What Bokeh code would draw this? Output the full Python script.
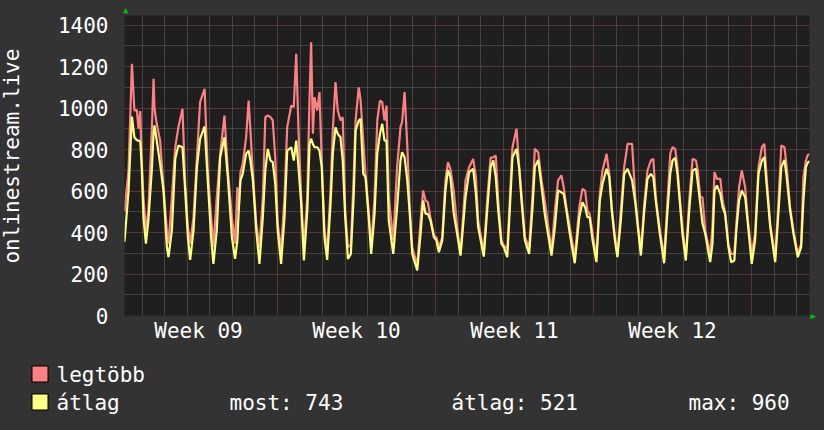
import math
from bokeh.plotting import figure
from bokeh.layouts import column, row
from bokeh.models import Range1d, FixedTicker, Grid, LinearAxis, GlobalInlineStyleSheet
from bokeh.core.properties import value
from bokeh.embed import file_html
from bokeh.resources import INLINE

# ---------------- data (time in days from Monday of Week 09) ----------------
t_days = [0.22, 0.40, 0.55, 0.66, 0.77, 0.84, 0.92, 0.98, 1.06, 1.17, 1.28, 1.43, 1.51, 1.55, 1.65, 1.80, 1.95,
          2.10, 2.17, 2.32, 2.47, 2.61, 2.79, 2.91, 3.03, 3.13, 3.28, 3.43, 3.57, 3.77, 3.91, 4.06, 4.16, 4.31,
          4.46, 4.65, 4.80, 4.98, 5.12, 5.22, 5.28, 5.36, 5.46, 5.61, 5.72, 5.80, 5.91, 6.06, 6.20, 6.35, 6.46,
          6.57, 6.69, 6.79, 6.90, 7.01, 7.16, 7.31, 7.43, 7.61, 7.72, 7.83, 7.93, 8.05, 8.17, 8.32, 8.42, 8.49,
          8.57, 8.64, 8.76, 8.86, 8.96, 9.08, 9.20, 9.35, 9.45, 9.57, 9.67, 9.79, 9.89, 10.00, 10.12, 10.25,
          10.38, 10.46, 10.60, 10.68, 10.80, 10.90, 11.05, 11.15, 11.30, 11.42, 11.54, 11.64, 11.74, 11.83,
          11.93, 12.13, 12.30, 12.45, 12.52, 12.63, 12.75, 12.86, 12.97, 13.19, 13.34, 13.45, 13.56, 13.66,
          13.78, 13.93, 14.04, 14.15, 14.30, 14.44, 14.55, 14.66, 14.81, 14.96, 15.11, 15.33, 15.49, 15.67,
          15.79, 15.89, 16.14, 16.29, 16.44, 16.56, 16.67, 16.78, 16.92, 17.03, 17.18, 17.29, 17.41, 17.59,
          17.71, 17.81, 17.96, 18.15, 18.30, 18.40, 18.55, 18.70, 18.84, 19.14, 19.29, 19.43, 19.58, 19.68,
          19.80, 19.95, 20.17, 20.37, 20.51, 20.63, 20.73, 20.83, 20.96, 21.13, 21.28, 21.40, 21.58, 21.70,
          21.81, 21.95, 22.06, 22.21, 22.36, 22.51, 22.71, 22.86, 22.95, 23.10, 23.25, 23.39, 23.54, 23.65,
          23.76, 23.94, 24.13, 24.28, 24.40, 24.50, 24.62, 24.72, 24.82, 24.94, 25.09, 25.24, 25.39, 25.54,
          25.62, 25.73, 25.83, 25.95, 26.17, 26.27, 26.36, 26.47, 26.62, 26.72, 26.83, 26.98, 27.10, 27.24,
          27.34, 27.45, 27.57, 27.72, 27.84, 28.01, 28.16, 28.31, 28.46, 28.57, 28.68, 28.83, 29.05, 29.20,
          29.32, 29.46, 29.56, 29.71, 29.86, 30.05, 30.20, 30.30, 30.41, 30.50, 30.58]

atlag = [355, 600, 959, 859, 845, 843, 840, 731, 474, 346, 458, 699, 880, 916, 843, 731, 602,
         329, 281, 410, 755, 819, 811, 602, 377, 268, 410, 715, 851, 911, 651, 377, 249, 410,
         763, 859, 667, 377, 273, 360, 500, 651, 683, 779, 795, 747, 651, 410, 249, 474, 699,
         803, 747, 739, 635, 410, 249, 474, 795, 811, 747, 843, 715, 538, 265, 506, 827, 851,
         827, 811, 811, 795, 715, 377, 268, 538, 779, 907, 875, 859, 747, 474, 273, 297,
         586, 892, 940, 948, 683, 667, 458, 297, 490, 779, 876, 924, 843, 843,
         458, 297, 522, 747, 787, 763, 651, 490, 297, 217, 394, 554, 490, 490,
         458, 377, 362, 305, 362, 602, 702, 667, 490, 394, 289, 570, 691, 707,
         586, 426, 284, 506, 715, 747, 667, 506, 346, 329, 281, 506, 763, 803,
         707, 554, 362, 297, 522, 715, 750, 618, 490, 289, 426, 602, 594, 586,
         506, 394, 252, 474, 546, 522, 474, 474, 362, 257, 554, 635, 707, 667,
         506, 362, 281, 458, 683, 707, 651, 538, 442, 289, 506, 659, 683, 667,
         554, 394, 252, 506, 683, 747, 760, 683, 554, 394, 265, 506, 699, 707,
         640, 538, 442, 394, 257, 345, 602, 627, 586, 522, 490, 329, 257, 265,
         426, 554, 602, 570, 442, 249, 362, 683, 747, 763, 618, 426, 257, 506,
         715, 750, 667, 506, 394, 281, 329, 554, 715, 739, 743]

legtobb = [500, 700, 1213, 988, 990, 900, 985, 760, 570, 410, 506, 892, 1141, 1000, 924, 843, 618,
           410, 346, 570, 811, 908, 996, 640, 426, 346, 474, 763, 1028, 1093, 699, 474, 329, 570,
           779, 964, 699, 474, 346, 618, 506, 690, 731, 859, 1036, 892, 683, 442, 329, 570, 956,
           964, 956, 940, 763, 442, 313, 570, 908, 1012, 1004, 1261, 892, 570, 329, 570, 1052, 1317,
           876, 1052, 988, 1077, 747, 410, 313, 602, 892, 1125, 988, 940, 956, 506, 329, 340,
           683, 940, 1100, 1040, 843, 680, 490, 329, 570, 940, 1036, 1028, 940, 1012,
           570, 362, 715, 908, 932, 1077, 819, 522, 329, 241, 458, 602, 554, 546,
           470, 386, 377, 329, 377, 651, 739, 707, 602, 426, 297, 651, 715, 755,
           667, 458, 305, 554, 760, 763, 771, 554, 362, 337, 321, 554, 811, 900,
           715, 586, 378, 329, 586, 803, 787, 651, 554, 313, 506, 651, 675, 618,
           522, 426, 281, 522, 610, 602, 506, 490, 394, 281, 586, 699, 779, 683,
           522, 378, 297, 506, 715, 827, 827, 554, 458, 313, 538, 699, 747, 755,
           570, 410, 281, 554, 779, 811, 803, 715, 570, 426, 281, 554, 755, 747,
           700, 570, 570, 410, 297, 426, 691, 659, 659, 554, 500, 340, 297, 297,
           458, 618, 699, 618, 458, 297, 394, 715, 811, 827, 651, 442, 281, 554,
           819, 811, 715, 522, 410, 297, 345, 667, 747, 776, 776]

week_centers = [3.5, 10.5, 17.5, 24.5]
week_labels = ["Week 09", "Week 10", "Week 11", "Week 12"]
y_ticks = [0, 200, 400, 600, 800, 1000, 1200, 1400]
y_title = "onlinestream.live"
series_names = ["legtöbb", "átlag"]
stat_texts = ["most: 743", "átlag: 521", "max: 960"]

# ---------------- layout (page pixels) ----------------
W, H = 824, 430
LAB_W = 40                     # strip holding the rotated y title
TOP_H = 350                    # chart part; legend strip below
FL, FR, FT, FB = 124, 809, 15, 315
X0, X1 = 0.2215, 30.57
Y0, Y1 = 0, 1446
FONT = "DejaVu Sans Mono"
FS = "21px"
BG = "#333333"
RED = "#ff8080"
YEL = "#ffff80"
GREEN = "#00c000"


def dx(px):
    return round(X0 + (px - FL) * (X1 - X0) / (FR - FL), 4)


def style_axis(ax, size=FS, color="#ffffff"):
    ax.axis_line_color = None
    ax.major_tick_line_color = None
    ax.minor_tick_line_color = None
    ax.major_tick_out = 0
    ax.major_tick_in = 0
    ax.minor_tick_out = 0
    ax.minor_tick_in = 0
    ax.major_label_text_font = FONT
    ax.major_label_text_font_size = size
    ax.major_label_text_color = color


def blank(w, h):
    f = figure(width=w, height=h, output_backend="svg", toolbar_location=None, title=None,
               x_range=Range1d(0, w), y_range=Range1d(0, h), x_axis_type=None, y_axis_type=None,
               min_border=0, background_fill_color=BG, border_fill_color=BG, outline_line_color=None)
    return f


# ---- main chart ----
p = figure(width=W - LAB_W, height=TOP_H, output_backend="svg", toolbar_location=None, title=None,
           x_range=Range1d(X0, X1), y_range=Range1d(Y0, Y1),
           min_border_left=FL - LAB_W, min_border_right=W - FR, min_border_top=FT,
           min_border_bottom=TOP_H - FB,
           background_fill_color="#1f1f1f", border_fill_color=BG, outline_line_color=None)
p.stylesheets = [GlobalInlineStyleSheet(css="html,body{margin:0;padding:0;background:#333333;overflow:hidden}")]

p.xaxis.ticker = FixedTicker(ticks=week_centers)
p.xaxis.major_label_overrides = {c: l for c, l in zip(week_centers, week_labels)}
p.yaxis.ticker = FixedTicker(ticks=y_ticks)
style_axis(p.xaxis[0])
style_axis(p.yaxis[0])
p.xaxis.major_label_standoff = 3
p.yaxis.major_label_standoff = 16

# green arrow heads at the axis ends (tick labels of extra axes)
ax_top = LinearAxis(ticker=FixedTicker(ticks=[dx(125.2)]), major_label_overrides={dx(125.2): "▲"})
style_axis(ax_top, "9px", GREEN)
ax_top.major_label_standoff = 1
p.add_layout(ax_top, "above")
ax_right = LinearAxis(ticker=FixedTicker(ticks=[0]), major_label_overrides={0: "▶"})
style_axis(ax_right, "9px", GREEN)
ax_right.major_label_standoff = 1
p.add_layout(ax_right, "right")

# grids
p.xgrid.grid_line_color = None
p.ygrid.grid_line_color = None
days = [d for d in range(1, 31) if d % 7]
weeks = [7, 14, 21, 28]
minor_y = list(range(100, 1401, 200))
major_y = list(range(200, 1401, 200))
p.add_layout(Grid(dimension=0, ticker=FixedTicker(ticks=days), grid_line_color="#686868", grid_line_dash="1 1"))
p.add_layout(Grid(dimension=1, ticker=FixedTicker(ticks=minor_y), grid_line_color="#686868", grid_line_dash="1 1"))
p.add_layout(Grid(dimension=0, ticker=FixedTicker(ticks=weeks), grid_line_color="#9a4848", grid_line_dash="1 1"))
p.add_layout(Grid(dimension=1, ticker=FixedTicker(ticks=major_y), grid_line_color="#9a4848", grid_line_dash="1 1"))

p.line(t_days, legtobb, line_color=RED, line_width=2.2)
p.line(t_days, atlag, line_color=YEL, line_width=2.2)

# ---- y title strip ----
lab = blank(LAB_W, TOP_H)
lab.text(x=[11], y=[TOP_H - 164], text=[y_title], angle=math.pi / 2, text_align="center",
         text_baseline="alphabetic", text_font=value(FONT), text_font_size=value(FS), text_color="#ffffff")

# ---- legend strip ----
LEG_H = H - TOP_H
leg = blank(W, LEG_H)
sw_top = [365.5, 393.5]
leg.quad(left=[31.5, 31.5], right=[47.5, 47.5], top=[LEG_H - (t - TOP_H) for t in sw_top],
         bottom=[LEG_H - (t + 16 - TOP_H) for t in sw_top], fill_color=[RED, YEL],
         line_color="#000000", line_width=1)
texts = series_names + stat_texts
tx = [56, 56, 229, 451, 688]
ty = [374, 402, 402, 402, 402]
leg.text(x=tx, y=[LEG_H - (v - TOP_H) for v in ty], text=texts, text_baseline="alphabetic",
         text_align="left", text_font=value(FONT), text_font_size=value(FS), text_color="#ffffff")

layout = column(row(lab, p), leg)
open("out.html", "w").write(file_html(layout, INLINE))
